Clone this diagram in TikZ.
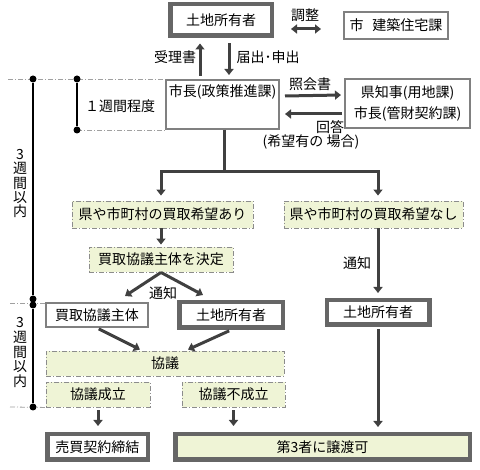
\documentclass[tikz,border=0pt]{standalone}
\usepackage{fontspec}
\setmainfont{Noto Sans CJK JP}
\usepackage{xcolor}
\definecolor{cLine}{HTML}{404040}
\definecolor{cFrame}{HTML}{666666}
\definecolor{cThin}{HTML}{808080}
\definecolor{cDash}{HTML}{8C8C8C}
\definecolor{cGuide}{HTML}{A0A0A0}
\definecolor{cFill}{HTML}{EFF4D6}
\usetikzlibrary{positioning,arrows.meta}
\tikzset{
  node-thick/.style={draw=cFrame,line width=4.5pt,fill=white,inner sep=0pt,align=center},
  node-thin/.style={draw=cThin,line width=2pt,fill=white,inner sep=0pt,align=center},
  node-wish/.style={draw=cDash,line width=0.9pt,fill=cFill,inner sep=0pt,align=center,
    dash pattern=on 5pt off 2pt on 1pt off 2pt},
  node-label/.style={inner sep=0pt,align=center},
  arrow/.style={-{Triangle[width=9pt,length=6pt]},line width=3pt,draw=cLine},
  arrow-line/.style={line width=3pt,draw=cLine},
  arrow-both/.style={{Triangle[width=9pt,length=6pt]}-{Triangle[width=9pt,length=6pt]},
    line width=3pt,draw=cLine},
  time-line/.style={draw=black,line width=1.2pt},
  time-guide/.style={draw=cGuide,line width=0.8pt,dash pattern=on 5pt off 2pt on 1pt off 2pt},
  time-dot/.style={circle,fill=black,inner sep=0pt,minimum size=7pt},
}

\begin{document}
\begin{tikzpicture}[x=1pt,y=-1pt,font=\fontsize{14}{17}\selectfont]
  \useasboundingbox (0,0) rectangle (480,470);

  % 上段: 届出
  \node[node-thick,minimum width=101.5pt,minimum height=31.5pt] (own1) at (221,20) {土地所有者};
  \node[node-thin,minimum width=104pt,minimum height=27pt] (bldg) at (396,25.5) {市\hspace{9pt}建築住宅課};
  \node[node-thin,minimum width=113pt,minimum height=49pt] (mayor) at (222.5,104.5) {};
  \node[node-label] (mayor-text) at (222.5,92) {市長(政策推進課)};
  \node[node-thin,minimum width=125pt,minimum height=49pt,
    font=\fontsize{14}{21}\selectfont] (pref) at (407.5,103.5) {県知事(用地課)\\市長(管財契約課)};

  \draw[arrow-both] ([shift={(17,9)}]own1.east) -- ([shift={(-22,3.5)}]bldg.west);
  \node[node-label] (adjust) at (305,15) {調整};
  \draw[arrow,shorten <=3pt,shorten >=5.5pt] ([xshift=-22.5]mayor.north) -- ([xshift=-21]own1.south);
  \node[node-label] (receipt) at (175,57) {受理書};
  \draw[arrow,shorten <=5.5pt,shorten >=4pt] ([xshift=8]own1.south) -- ([xshift=6.5]mayor.north);
  \node[node-label] (notify-in) at (268,57) {届出･申出};
  \draw[arrow] ([shift={(5,-8.5)}]mayor.east) -- ([shift={(-3,-8.5)}]pref.west);
  \node[node-label] (inquiry) at (310,84) {照会書};
  \draw[arrow] ([shift={(-2,10.5)}]pref.west) -- ([shift={(5,9.5)}]mayor.east);
  \node[node-label] (ans-a) at (330,127) {回答};
  \node[node-label] (ans-b) at (311,142) {(希望有の 場合)};

  % 中段: 買取希望の有無
  \node[node-wish,minimum width=181pt,minimum height=27pt] (yes) at (162.5,214.5) {県や市町村の買取希望あり};
  \node[node-wish,minimum width=179pt,minimum height=27pt] (no) at (373.5,214.5) {県や市町村の買取希望なし};
  \node[node-wish,minimum width=144pt,minimum height=25pt] (decide) at (161,259.5) {買取協議主体を決定};
  \coordinate (split) at (224,172);
  \draw[arrow-line] ([xshift=1.5]mayor.south) -- (split);
  \draw[arrow,shorten >=5pt] (split) -| ([xshift=-1.5]yes.north);
  \draw[arrow,shorten >=5pt] (split) -| ([xshift=4.5]no.north);
  \draw[arrow,shorten >=2pt] (yes.south -| decide.north) -- (decide.north);

  % 下段: 協議
  \node[node-thin,minimum width=102pt,minimum height=24pt] (buyer) at (97,315) {買取協議主体};
  \node[node-thick,minimum width=103.5pt,minimum height=25.5pt] (own2) at (231,315) {土地所有者};
  \node[node-thick,minimum width=102.5pt,minimum height=24.5pt] (own3) at (378,312.5) {土地所有者};
  \draw[arrow] (decide.south) -- ([shift={(28,-6)}]buyer.north);
  \draw[arrow] (decide.south) -- ([shift={(-28,-5)}]own2.north);
  \node[node-label] (notice-a) at (163,293) {通知};
  \draw[arrow,shorten >=5pt] ([xshift=4.5]no.south) -- (own3.north);
  \node[node-label] (notice-b) at (357,263) {通知};

  \node[node-wish,minimum width=238pt,minimum height=25pt] (talk) at (165,363.5) {協議};
  \node[node-wish,minimum width=104pt,minimum height=25pt] (agree) at (98,394.5) {協議成立};
  \node[node-wish,minimum width=103pt,minimum height=25pt] (fail) at (233.5,394.5) {協議不成立};
  \draw[arrow,shorten <=2pt] (buyer.south) -- ([shift={(-25,-1)}]talk.north);
  \draw[arrow,shorten <=2pt] (own2.south) -- ([shift={(23,-1)}]talk.north);

  \node[node-thick,minimum width=100.5pt,minimum height=25.5pt] (sale) at (97.5,447) {売買契約締結};
  \node[node-thick,minimum width=294.5pt,minimum height=25.5pt,fill=cFill] (third) at (322.5,447) {第3者に譲渡可};
  \draw[arrow,shorten <=3pt,shorten >=6pt] (agree.south) -- (agree.south |- sale.north);
  \draw[arrow,shorten <=3pt,shorten >=6pt] (fail.south) -- (fail.south |- third.north);
  \draw[arrow,shorten <=2pt,shorten >=5pt] (own3.south) -- (own3.south |- third.north);

  % 期間
  \coordinate (g-top) at (8,79);
  \coordinate (g-week) at (77,130);
  \coordinate (g-mid) at (10,303);
  \coordinate (g-end) at (10,407);
  \draw[time-guide] (g-top) -- (mayor.north west);
  \draw[time-guide] (g-week) -- (mayor.south west);
  \draw[time-guide] (g-mid) -- (buyer.west |- g-mid);
  \draw[time-guide] (g-end) -- (agree.south west);
  \node[time-dot] (d1) at (33,79) {};
  \node[time-dot] (d2) at (77,79) {};
  \node[time-dot] (d3) at (77,130) {};
  \node[time-dot] (d4) at (33,299) {};
  \node[time-dot] (d5) at (33,305) {};
  \node[time-dot] (d6) at (33,407) {};
  \draw[time-line] (d1) -- (d4);
  \draw[time-line] (d2) -- (d3);
  \draw[time-line] (d5) -- (d6);
  \node[node-label] (week1) at (120,106) {１週間程度};
  \node[node-label,font=\fontsize{14}{14.3}\selectfont] (week3-a) at (20,183.5) {3\\週\\間\\以\\内};
  \node[node-label,font=\fontsize{14}{14.7}\selectfont] (week3-b) at (20,352.5) {3\\週\\間\\以\\内};
\end{tikzpicture}
\end{document}
